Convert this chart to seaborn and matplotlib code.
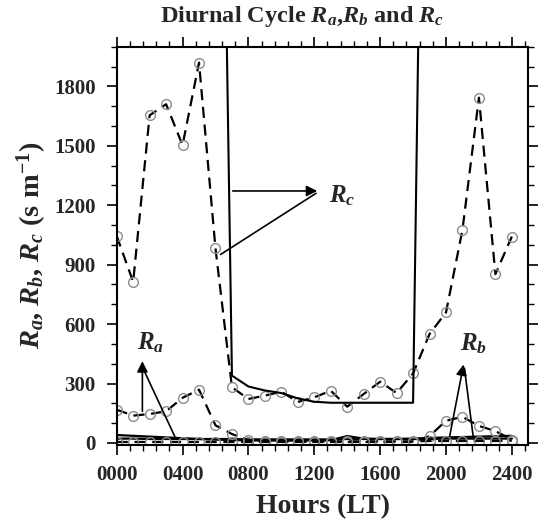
import matplotlib
matplotlib.use("Agg")
import matplotlib.pyplot as plt
from matplotlib.ticker import MultipleLocator, FixedLocator
import seaborn as sns
import pandas as pd

# ---------------- data ----------------
hours = [0, 100, 200, 300, 400, 500, 600, 700, 800, 900, 1000, 1100, 1200,
         1300, 1400, 1500, 1600, 1700, 1800, 1900, 2000, 2100, 2200, 2300, 2400]
xtick_labels = ["0000", "0400", "0800", "1200", "1600", "2000", "2400"]
xtick_values = [0, 400, 800, 1200, 1600, 2000, 2400]
ytick_values = [0, 300, 600, 900, 1200, 1500, 1800]

rc_dashed = [1045, 813, 1654, 1710, 1503, 1920, 982, 281, 222, 239, 259, 207,
             230, 264, 183, 247, 309, 252, 351, 550, 659, 1076, 1743, 852, 1042]
rc_solid = [6000, 6000, 6000, 6000, 6000, 6000, 5700, 340, 285, 265, 252, 225,
            208, 203, 203, 203, 203, 203, 203, 6000, 6000, 6000, 6000, 6000, 6000]
ra_dashed = [168, 138, 146, 160, 228, 269, 89, 45, 14, 10, 10, 8, 8,
             8, 8, 8, 8, 8, 8, 10, 10, 10, 10, 10, 12]
rb_dashed = [5, 5, 5, 5, 5, 5, 5, 5, 5, 5, 5, 5, 5,
             5, 5, 5, 5, 5, 5, 35, 112, 132, 86, 60, 17]
ra_solid = [40, 36, 32, 28, 24, 20, 17, 15, 13, 12, 12, 12, 13,
            14, 35, 22, 20, 20, 22, 25, 28, 30, 32, 34, 36]
rb_solid = [22, 22, 20, 20, 20, 20, 20, 20, 18, 18, 18, 18, 18,
            18, 20, 20, 20, 20, 20, 20, 22, 22, 22, 22, 22]

# ---------------- style ----------------
sns.set_style("ticks")
plt.rcParams["font.family"] = ["Liberation Serif", "DejaVu Serif"]
plt.rcParams["font.weight"] = "bold"
plt.rcParams["mathtext.fontset"] = "custom"
plt.rcParams["mathtext.rm"] = "Liberation Serif:bold"
plt.rcParams["mathtext.it"] = "Liberation Serif:italic:bold"
plt.rcParams["mathtext.bf"] = "Liberation Serif:bold"

fig = plt.figure(figsize=(5.39, 5.23), dpi=100)
ax = fig.add_axes([0.2165, 0.150, 0.7637, 0.7606])

df = pd.DataFrame({"hour": hours, "rc_dashed": rc_dashed, "rc_solid": rc_solid,
                   "ra_dashed": ra_dashed, "rb_dashed": rb_dashed,
                   "ra_solid": ra_solid, "rb_solid": rb_solid})

dash = (0, (5, 3))
mk = dict(marker="o", markersize=7, markerfacecolor="none",
          markeredgecolor="#8c8c8c", markeredgewidth=1.0)

for col in ["ra_solid", "rb_solid"]:
    sns.lineplot(data=df, x="hour", y=col, ax=ax, color="black", lw=1.6)
for col in ["rb_dashed", "ra_dashed", "rc_dashed"]:
    sns.lineplot(data=df, x="hour", y=col, ax=ax, color="black", lw=1.6,
                 linestyle=dash, **mk)
sns.lineplot(data=df, x="hour", y="rc_solid", ax=ax, color="black", lw=1.5)

ax.set_xlim(0, 2500)
ax.set_ylim(-8, 2000)

ax.xaxis.set_major_locator(FixedLocator(xtick_values))
ax.set_xticklabels(xtick_labels)
ax.xaxis.set_minor_locator(MultipleLocator(80))
ax.yaxis.set_major_locator(FixedLocator(ytick_values))
ax.yaxis.set_minor_locator(MultipleLocator(100))

ax.tick_params(which="both", direction="out", top=True, right=True,
               labeltop=False, labelright=False, color="black")
ax.tick_params(which="major", length=7, width=1.2, labelsize=15, pad=8)
ax.tick_params(which="minor", length=4, width=1.0)
for lab in ax.get_xticklabels() + ax.get_yticklabels():
    lab.set_fontweight("bold")
for s in ax.spines.values():
    s.set_linewidth(1.5)
    s.set_color("black")

ax.set_xlabel("Hours (LT)", fontsize=20, fontweight="bold", labelpad=6)
ax.set_ylabel(r"$R_a$, $R_b$, $R_c$ (s m$^{-1}$)", fontsize=20.5,
              fontweight="bold", labelpad=4)
fig.text(0.56, 0.968, r"Diurnal Cycle $R_a$,$R_b$ and $R_c$", fontsize=17.5,
         fontweight="bold", ha="center", va="center")

# ---------------- annotations ----------------
ap_head = dict(arrowstyle="-|>", color="black", lw=1.2, mutation_scale=16)
ap_line = dict(arrowstyle="-", color="black", lw=1.2)

# R_a
ax.annotate("", xy=(156, 427), xytext=(156, 146), arrowprops=ap_head)
ax.annotate("", xy=(158, 380), xytext=(360, 20), arrowprops=ap_line)
ax.text(203, 508, r"$R_a$", fontsize=18, ha="center", va="center")

# R_b
ax.annotate("", xy=(2110, 410), xytext=(2019, 20), arrowprops=ap_head)
ax.annotate("", xy=(2110, 390), xytext=(2167, 20), arrowprops=ap_line)
ax.text(2167, 500, r"$R_b$", fontsize=18, ha="center", va="center")

# R_c
ax.annotate("", xy=(1235, 1272), xytext=(688, 1272), arrowprops=ap_head)
ax.annotate("", xy=(1225, 1268), xytext=(617, 944), arrowprops=ap_line)
ax.text(1290, 1247, r"$R_c$", fontsize=18, ha="left", va="center")

fig.savefig("out.png", dpi=100)
